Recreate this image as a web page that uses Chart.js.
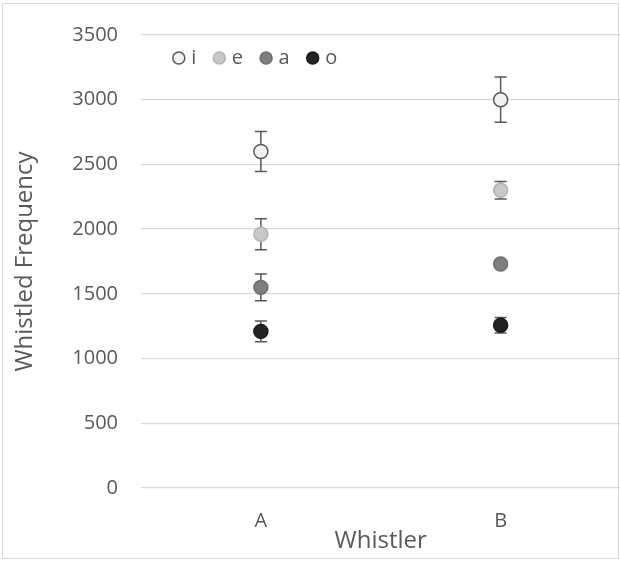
<!DOCTYPE html>
<html>
<head>
<meta charset="utf-8">
<script src="https://cdn.jsdelivr.net/npm/chart.js@4/dist/chart.umd.min.js"></script>
<style>
  html, body { margin: 0; padding: 0; background: #fff; }
  #wrap { width: 620px; height: 561px; position: relative; overflow: hidden; }
</style>
</head>
<body>
<div id="wrap"><canvas id="myChart" width="629" height="561"></canvas></div>
<script>
// data
const whistlers = ['A', 'B'];
const yTicks = [0, 500, 1000, 1500, 2000, 2500, 3000, 3500];

const vowelI = [2600, 3000];
const vowelIErr = [155, 175];
const vowelE = [1960, 2300];
const vowelEErr = [120, 68];
const vowelA = [1550, 1730];
const vowelAErr = [103, 20];
const vowelO = [1210, 1258];
const vowelOErr = [80, 60];

const textColor = '#595959';
const gridColor = '#d9d9d9';

// error bars drawn under the markers
const errorBars = {
    id: 'errorBars',
    beforeDatasetsDraw(chart) {
        const ctx = chart.ctx;
        const y = chart.scales.y;
        ctx.save();
        ctx.strokeStyle = textColor;
        ctx.lineWidth = 1.5;
        chart.data.datasets.forEach((ds, di) => {
            const meta = chart.getDatasetMeta(di);
            meta.data.forEach((pt, i) => {
                const top = y.getPixelForValue(ds.data[i] + ds.err[i]);
                const bot = y.getPixelForValue(ds.data[i] - ds.err[i]);
                ctx.beginPath();
                ctx.moveTo(pt.x, top);
                ctx.lineTo(pt.x, bot);
                ctx.moveTo(pt.x - 6, top);
                ctx.lineTo(pt.x + 6, top);
                ctx.moveTo(pt.x - 6, bot);
                ctx.lineTo(pt.x + 6, bot);
                ctx.stroke();
            });
        });
        ctx.restore();
    }
};

// legend inside the plot + outer frame
const insideLegend = {
    id: 'insideLegend',
    afterDraw(chart) {
        const ctx = chart.ctx;
        ctx.save();
        ctx.strokeStyle = gridColor;
        ctx.lineWidth = 1;
        ctx.strokeRect(2.5, 3.5, 616, 555);

        ctx.font = '20px "Open Sans"';
        ctx.textBaseline = 'middle';
        let cx = 178.8;
        const cy = 58;
        chart.data.datasets.forEach(ds => {
            ctx.beginPath();
            ctx.arc(cx, cy, 6, 0, Math.PI * 2);
            ctx.fillStyle = ds.pointBackgroundColor;
            ctx.fill();
            ctx.strokeStyle = ds.pointBorderColor;
            ctx.lineWidth = 1.5;
            ctx.stroke();
            ctx.fillStyle = textColor;
            ctx.fillText(ds.label, cx + 12.5, cy);
            cx = cx + 12.5 + ctx.measureText(ds.label).width + 23;
        });
        ctx.restore();
    }
};

function series(label, data, err, fill, border) {
    return {
        label: label,
        data: data,
        err: err,
        showLine: false,
        pointRadius: 7,
        pointHoverRadius: 7,
        pointBorderWidth: 1.5,
        pointBackgroundColor: fill,
        pointBorderColor: border,
        backgroundColor: fill,
        borderColor: border
    };
}

const ctx = document.getElementById('myChart').getContext('2d');
new Chart(ctx, {
    type: 'line',
    data: {
        labels: whistlers,
        datasets: [
            series('i', vowelI, vowelIErr, '#f2f2f2', '#595959'),
            series('e', vowelE, vowelEErr, '#c8c8c8', '#b4b4b4'),
            series('a', vowelA, vowelAErr, '#7f7f7f', '#6f6f6f'),
            series('o', vowelO, vowelOErr, '#232323', '#1a1a1a')
        ]
    },
    options: {
        responsive: false,
        animation: false,
        layout: { padding: { top: 35, right: 0, bottom: 0, left: 0 } },
        plugins: {
            legend: { display: false },
            tooltip: { enabled: false }
        },
        scales: {
            x: {
                type: 'category',
                offset: true,
                grid: { display: false, drawTicks: false },
                border: { display: false },
                ticks: { color: textColor, font: { family: 'Open Sans', size: 20 }, padding: 21 },
                title: { display: true, text: 'Whistler', color: textColor, font: { family: 'Open Sans', size: 24 }, padding: { top: 0, bottom: 5 } },
                afterFit(scale) { scale.height = 73; }
            },
            y: {
                min: 0,
                max: 3500,
                afterBuildTicks(scale) { scale.ticks = yTicks.map(v => ({ value: v })); },
                grid: { color: gridColor, lineWidth: 1.3, drawTicks: false },
                border: { display: false },
                ticks: { color: textColor, font: { family: 'Open Sans', size: 20 }, padding: 23, callback: v => String(v) },
                title: { display: true, text: 'Whistled Frequency', color: textColor, font: { family: 'Open Sans', size: 24 }, padding: { top: 10.5, bottom: 0 } },
                afterFit(scale) { scale.width = 141; }
            }
        }
    },
    plugins: [errorBars, insideLegend]
});
</script>
</body>
</html>
